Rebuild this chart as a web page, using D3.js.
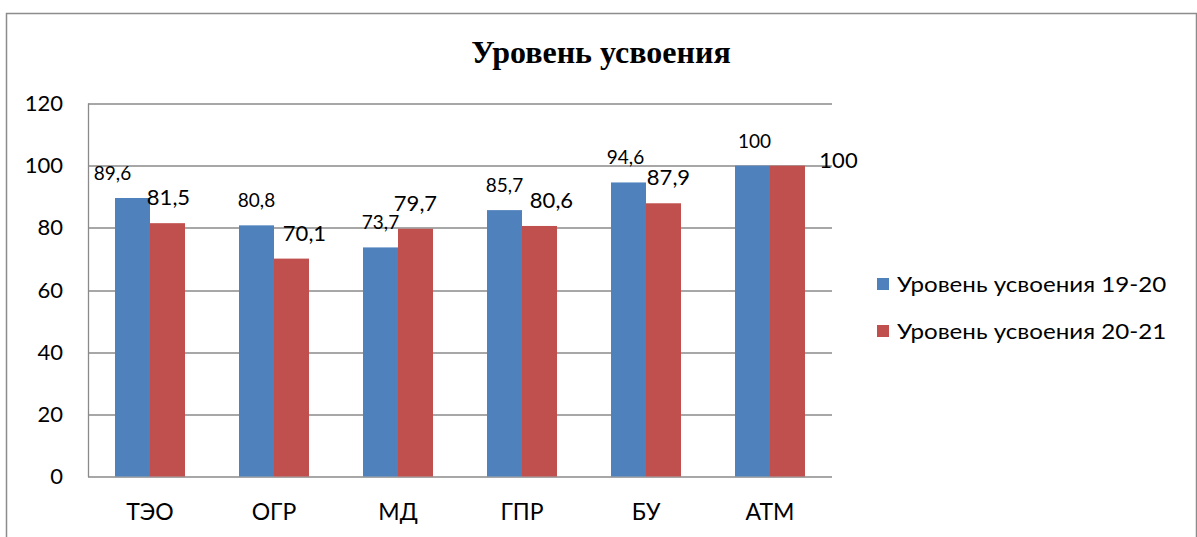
<!DOCTYPE html>
<html>
<head>
<meta charset="utf-8">
<script src="https://cdn.jsdelivr.net/npm/d3@7"></script>
<style>
  html, body { margin: 0; padding: 0; background: #fff; }
  svg { display: block; }
  text { font-family: Lato, "Open Sans", sans-serif; fill: #000; }
</style>
</head>
<body>
<div id="chart"></div>
<script>
(function(){
    'use strict';

    var categories = ['ТЭО', 'ОГР', 'МД', 'ГПР', 'БУ', 'АТМ'];
    var seriesNames = ['Уровень усвоения 19-20', 'Уровень усвоения 20-21'];
    var values1920 = [89.6, 80.8, 73.7, 85.7, 94.6, 100];
    var values2021 = [81.5, 70.1, 79.7, 80.6, 87.9, 100];
    var yTicks = [0, 20, 40, 60, 80, 100, 120];
    var title = 'Уровень усвоения';

    // label nudges copied from the hand-placed labels of the original
    var nudgeX = [[-20, 0, 0, 0, -3, 2], [1, 13, 0, 12, 5, 51]];
    var nudgeY = [[0, 0, 0, 0, 0, 0], [0, 0, 0, 0, 0, 20]];

    var colors = ['#4F81BD', '#C0504D'];
    var width = 1197, height = 537;
    var margin = {top: 103.5, right: 365, bottom: 60.5, left: 88};
    var innerW = width - margin.left - margin.right,
        innerH = height - margin.top - margin.bottom;

    var svg = d3.select('#chart').append('svg')
        .attr('width', width)
        .attr('height', height);

    // outer chart frame (bottom edge runs off the page)
    svg.append('path')
        .attr('d', 'M6.5,' + height + 'V13.5H1196.5V' + height)
        .attr('fill', 'none')
        .attr('stroke', '#8c8c8c')
        .attr('stroke-width', 1.5);

    svg.append('text')
        .attr('x', 601)
        .attr('y', 63)
        .attr('text-anchor', 'middle')
        .style('font-family', '"Liberation Serif", "Times New Roman", serif')
        .style('font-weight', 'bold')
        .style('font-size', '32px')
        .text(title);

    var g = svg.append('g')
        .attr('transform', 'translate(' + margin.left + ',' + margin.top + ')');

    var x = d3.scaleBand()
        .domain(categories)
        .range([0, innerW]);

    var x1 = d3.scaleBand()
        .domain([0, 1])
        .range([0, 70]);

    var y = d3.scaleLinear()
        .domain([0, 120])
        .range([innerH, 0]);

    // gridlines
    g.append('g')
        .selectAll('line')
        .data(yTicks)
        .enter().append('line')
        .attr('x1', 0)
        .attr('x2', innerW)
        .attr('y1', function (d) { return Math.round(y(d)) + 0.5; })
        .attr('y2', function (d) { return Math.round(y(d)) + 0.5; })
        .attr('stroke', '#8a8a8a')
        .attr('stroke-width', 1.3);

    g.append('line')
        .attr('x1', 0.5).attr('x2', 0.5)
        .attr('y1', y(120)).attr('y2', y(0) + 0.5)
        .attr('stroke', '#8a8a8a')
        .attr('stroke-width', 1.3);

    var yAxis = g.append('g')
        .call(d3.axisLeft(y).tickValues(yTicks).tickSize(0).tickPadding(25));
    yAxis.select('.domain').remove();
    yAxis.selectAll('text')
        .style('font-size', '22px')
        .style('font-family', 'Lato, sans-serif')
        .attr('fill', '#000');

    var xAxis = g.append('g')
        .attr('transform', 'translate(0,' + innerH + ')')
        .call(d3.axisBottom(x).tickSize(0).tickPadding(27));
    xAxis.select('.domain').remove();
    xAxis.selectAll('text')
        .style('font-size', '23px')
        .style('font-family', 'Lato, sans-serif')
        .attr('fill', '#000');

    var series = [values1920, values2021];
    var labelSizes = ['19px', '22px'];

    series.forEach(function (vals, s) {
        var bars = g.append('g');
        bars.selectAll('rect')
            .data(vals)
            .enter().append('rect')
            .attr('x', function (d, i) {
                return x(categories[i]) + (x.bandwidth() - 70) / 2 + x1(s);
            })
            .attr('y', function (d) { return y(d); })
            .attr('width', x1.bandwidth())
            .attr('height', function (d) { return innerH - y(d); })
            .attr('fill', colors[s]);

        bars.selectAll('text')
            .data(vals)
            .enter().append('text')
            .attr('x', function (d, i) {
                return x(categories[i]) + (x.bandwidth() - 70) / 2 + x1(s) + x1.bandwidth() / 2 + nudgeX[s][i];
            })
            .attr('y', function (d, i) { return y(d) - 18 + nudgeY[s][i]; })
            .attr('text-anchor', 'middle')
            .style('font-size', labelSizes[s])
            .text(function (d) { return String(d).replace('.', ','); });
    });

    // legend
    var legend = svg.append('g')
        .attr('transform', 'translate(877,278)');

    var item = legend.selectAll('g')
        .data(seriesNames)
        .enter().append('g')
        .attr('transform', function (d, i) { return 'translate(0,' + i * 47 + ')'; });

    item.append('rect')
        .attr('width', 12)
        .attr('height', 12)
        .attr('fill', function (d, i) { return colors[i]; });

    item.append('text')
        .attr('transform', 'translate(20,14) scale(1.15,1)')
        .style('font-size', '21px')
        .text(function (d) { return d; });
})();
</script>
</body>
</html>
